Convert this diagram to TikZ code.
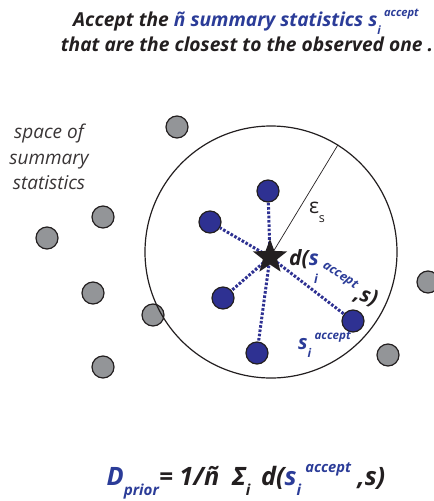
\documentclass[tikz,border=0pt]{standalone}
\usepackage{fontspec}
\setmainfont{Open Sans}
\usepackage{xcolor}
\usetikzlibrary{shapes.geometric, positioning}

\definecolor{obsblue}{HTML}{2E3192}
\definecolor{txtblue}{HTML}{2B3C98}
\definecolor{ptgrey}{HTML}{939598}
\definecolor{inkdark}{HTML}{231F20}

% chỉ số dưới / chỉ số trên (tỉ lệ theo cỡ chữ hiện hành)
\newcommand{\lowtxt}[1]{\raisebox{-0.42em}{\scalebox{0.6}{#1}}}
\newcommand{\hightxt}[1]{\raisebox{0.5em}{\scalebox{0.58}{#1}}}

\begin{document}
\begin{tikzpicture}[x=1pt, y=-1pt,
    greypt/.style={circle, draw=inkdark, line width=1.2pt, fill=ptgrey, minimum size=22pt, inner sep=0pt},
    bluept/.style={greypt, fill=obsblue},
    distline/.style={obsblue, line width=3pt, dash pattern=on 2.6pt off 1.7pt},
    obsstar/.style={star, star points=5, star point ratio=2.4, fill=inkdark, minimum size=36pt, inner sep=0pt},
    boldtxt/.style={font=\bfseries\itshape, text=inkdark, inner sep=0pt}]

    \useasboundingbox (0,0) rectangle (434,501);

    % =================================================================
    % 1. TIÊU ĐỀ
    % =================================================================
    \node[boldtxt, anchor=base, font=\fontsize{19.2}{22}\selectfont\bfseries\itshape] (title1) at (246,26)
        {Accept the \textcolor{txtblue}{ñ summary statistics s\lowtxt{i}\,\hightxt{accept}}};
    \node[boldtxt, anchor=base, font=\fontsize{19.2}{22}\selectfont\bfseries\itshape] (title2) at (247,51)
        {that are the closest to the observed one .};

    % Nhãn không gian thống kê
    \node[align=center, text=inkdark!90, inner sep=0pt, font=\fontsize{19}{25.5}\selectfont\itshape] (spacelbl) at (49,157)
        {space of\\summary\\statistics};

    % =================================================================
    % 2. CÁC ĐIỂM XÁM (BỊ LOẠI)
    % =================================================================
    \node[greypt] (g1) at (177,127) {};
    \node[greypt] (g2) at (103,217) {};
    \node[greypt] (g3) at (47,238) {};
    \node[greypt] (g4) at (93,293) {};
    \node[greypt] (g5) at (153,315) {};
    \node[greypt] (g6) at (103,367) {};
    \node[greypt] (g7) at (428,282) {};
    \node[greypt] (g8) at (388,355) {};

    % Vùng chấp nhận bán kính epsilon
    \node[circle, draw=inkdark, line width=1.2pt, minimum size=252pt, inner sep=0pt] (region) at (271,252) {};

    % =================================================================
    % 3. ĐIỂM QUAN SÁT VÀ CÁC ĐIỂM ĐƯỢC CHẤP NHẬN
    % =================================================================
    \coordinate (obs) at (270,257);

    \node[bluept] (b1) at (268,191) {};
    \node[bluept] (b2) at (210,222) {};
    \node[bluept] (b3) at (223,298) {};
    \node[bluept] (b4) at (257,353) {};
    \node[bluept] (b5) at (353,321) {};

    % Bán kính epsilon
    \draw[inkdark, line width=0.7pt] (obs) -- (region.58);

    % Khoảng cách (nét chấm xanh)
    \draw[distline] (obs) -- (b1);
    \draw[distline] (obs) -- (b2);
    \draw[distline] (obs) -- (b3);
    \draw[distline] (obs) -- (b4);
    \draw[distline] (obs) -- (b5);

    \node[obsstar] (star) at (obs) {};

    % =================================================================
    % 4. NHÃN
    % =================================================================
    \node[text=inkdark, inner sep=0pt, font=\fontsize{21}{24}\selectfont] (eps) at (317,212) {ε\lowtxt{s}};

    \node[boldtxt, anchor=base west, font=\fontsize{21}{24}\selectfont\bfseries\itshape] (dlbl) at (289,265)
        {d(\textcolor{txtblue}{s}};
    \node[boldtxt, text=txtblue, font=\fontsize{12.5}{15}\selectfont\bfseries\itshape] (dsub) at (316,279) {i};
    \node[boldtxt, text=txtblue, rotate=-33, font=\fontsize{12.5}{15}\selectfont\bfseries\itshape] (dacc) at (340,276) {accept};
    \node[boldtxt, rotate=-18, font=\fontsize{21}{24}\selectfont\bfseries\itshape] (dend) at (366,297) {,s)};

    \node[boldtxt, text=txtblue, anchor=base west, font=\fontsize{20}{24}\selectfont\bfseries\itshape] (slbl) at (298,349)
        {s\lowtxt{i}\,\hightxt{accept}};

    % Công thức
    \node[boldtxt, anchor=base, font=\fontsize{25.3}{28}\selectfont\bfseries\itshape] (formula) at (246,485)
        {\textcolor{txtblue}{D\lowtxt{prior}}= 1/ñ\enspace Σ\lowtxt{i}\, d(\textcolor{txtblue}{s\lowtxt{i}\,\hightxt{accept}} ,s)};

\end{tikzpicture}
\end{document}
